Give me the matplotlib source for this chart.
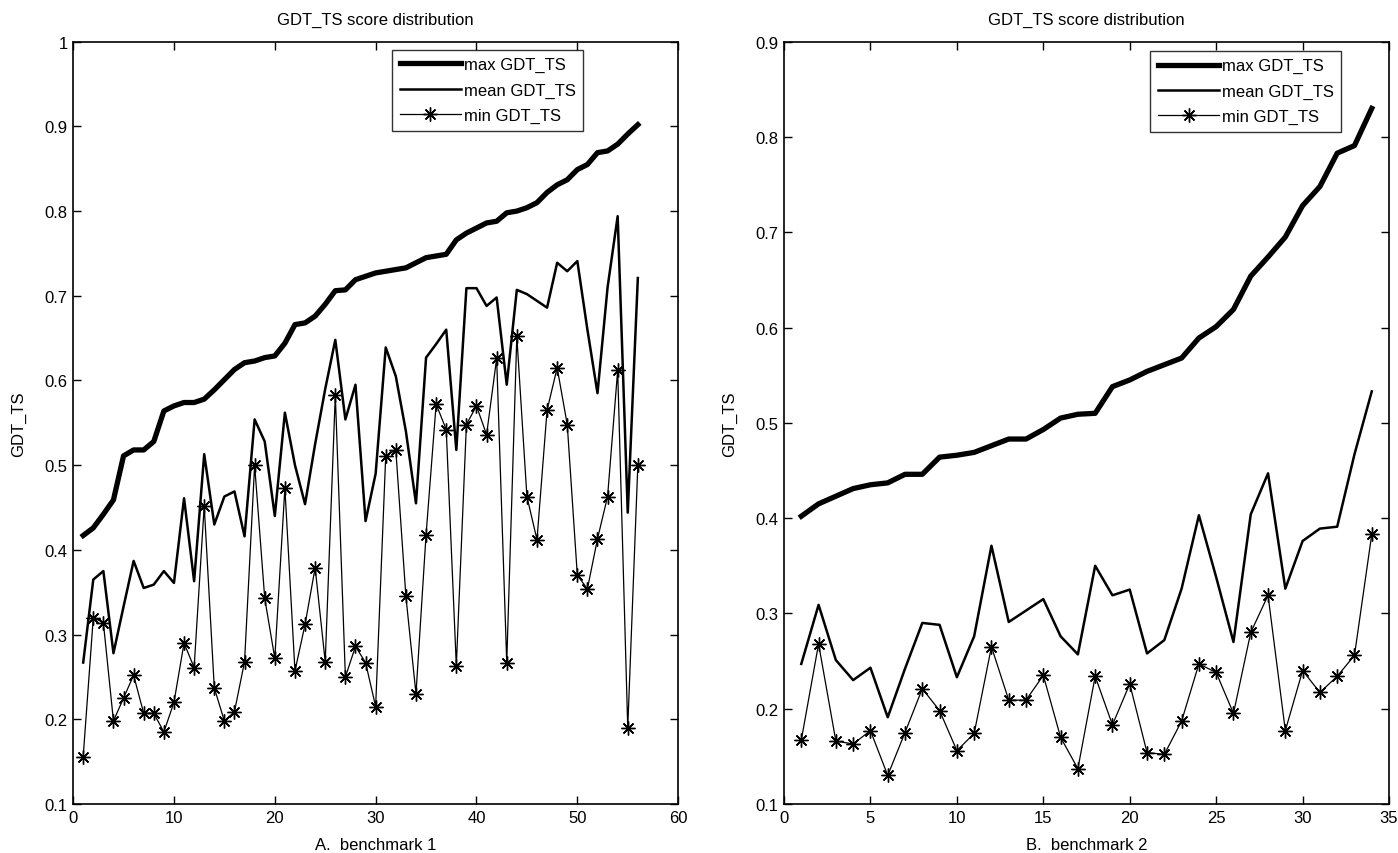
import matplotlib.pyplot as plt

plt.rcParams['font.family'] = ['Liberation Sans', 'DejaVu Sans']

# benchmark 1 (56 targets)
max_a = [0.417, 0.426, 0.442, 0.459, 0.511, 0.518, 0.518, 0.528, 0.564, 0.570,
         0.574, 0.574, 0.578, 0.589, 0.601, 0.613, 0.621, 0.623, 0.627, 0.629,
         0.644, 0.666, 0.668, 0.676, 0.690, 0.706, 0.707, 0.719, 0.723, 0.727,
         0.729, 0.731, 0.733, 0.739, 0.745, 0.747, 0.749, 0.766, 0.774, 0.780,
         0.786, 0.788, 0.798, 0.800, 0.804, 0.810, 0.822, 0.831, 0.837, 0.849,
         0.855, 0.869, 0.871, 0.879, 0.891, 0.902]
mean_a = [0.267, 0.365, 0.375, 0.278, 0.333, 0.387, 0.355, 0.359, 0.375, 0.361,
          0.461, 0.363, 0.513, 0.430, 0.463, 0.469, 0.416, 0.554, 0.528, 0.440,
          0.562, 0.500, 0.454, 0.525, 0.590, 0.648, 0.554, 0.595, 0.434, 0.490,
          0.639, 0.605, 0.540, 0.455, 0.627, 0.643, 0.660, 0.518, 0.709, 0.709,
          0.688, 0.698, 0.595, 0.707, 0.702, 0.694, 0.686, 0.739, 0.729, 0.741,
          0.660, 0.585, 0.710, 0.794, 0.444, 0.721]
min_a = [0.156, 0.320, 0.314, 0.198, 0.225, 0.252, 0.207, 0.207, 0.185, 0.220,
         0.290, 0.261, 0.452, 0.237, 0.198, 0.209, 0.268, 0.500, 0.343, 0.272,
         0.473, 0.257, 0.312, 0.379, 0.268, 0.583, 0.250, 0.286, 0.267, 0.215,
         0.511, 0.518, 0.345, 0.230, 0.418, 0.572, 0.542, 0.263, 0.548, 0.570,
         0.536, 0.626, 0.267, 0.652, 0.463, 0.412, 0.565, 0.615, 0.548, 0.370,
         0.354, 0.413, 0.463, 0.612, 0.190, 0.500]

# benchmark 2 (34 targets)
max_b = [0.402, 0.415, 0.423, 0.431, 0.435, 0.437, 0.446, 0.446, 0.464, 0.466,
         0.469, 0.476, 0.483, 0.483, 0.493, 0.505, 0.509, 0.510, 0.538, 0.545,
         0.554, 0.561, 0.568, 0.589, 0.601, 0.619, 0.654, 0.674, 0.695, 0.728,
         0.748, 0.783, 0.791, 0.830]
mean_b = [0.247, 0.309, 0.251, 0.230, 0.243, 0.191, 0.242, 0.290, 0.288, 0.233,
          0.276, 0.371, 0.291, 0.303, 0.315, 0.276, 0.257, 0.350, 0.319, 0.325,
          0.258, 0.272, 0.326, 0.403, 0.338, 0.270, 0.404, 0.447, 0.326, 0.376,
          0.389, 0.391, 0.467, 0.533]
min_b = [0.167, 0.268, 0.166, 0.163, 0.177, 0.130, 0.175, 0.221, 0.198, 0.156,
         0.174, 0.265, 0.209, 0.209, 0.235, 0.170, 0.137, 0.234, 0.183, 0.226,
         0.154, 0.152, 0.187, 0.247, 0.238, 0.195, 0.280, 0.319, 0.177, 0.240,
         0.217, 0.234, 0.256, 0.383]

panels = [
    (max_a, mean_a, min_a, 'A.  benchmark 1', (0, 60), range(0, 61, 10), (0.1, 1.0),
     [0.1, 0.2, 0.3, 0.4, 0.5, 0.6, 0.7, 0.8, 0.9, 1.0],
     ['0.1', '0.2', '0.3', '0.4', '0.5', '0.6', '0.7', '0.8', '0.9', '1'],
     [0.0523, 0.0574, 0.4328, 0.8926], (0.843, 0.9895)),
    (max_b, mean_b, min_b, 'B.  benchmark 2', (0, 35), range(0, 36, 5), (0.1, 0.9),
     [0.1, 0.2, 0.3, 0.4, 0.5, 0.6, 0.7, 0.8, 0.9],
     ['0.1', '0.2', '0.3', '0.4', '0.5', '0.6', '0.7', '0.8', '0.9'],
     [0.5608, 0.0574, 0.4328, 0.8926], (0.921, 0.988)),
]

fig = plt.figure(figsize=(13.98, 8.54), dpi=100)

for mx, mn, lo, xlab, xlim, xt, ylim, yt, ytl, rect, leg_at in panels:
    ax = fig.add_axes(rect)
    x = range(1, len(mx) + 1)
    ax.plot(x, mx, color='black', linewidth=3.8, label='max GDT_TS')
    ax.plot(x, mn, color='black', linewidth=1.8, label='mean GDT_TS')
    ax.plot(x, lo, color='black', linewidth=0.9, marker=(8, 2, 0), markersize=10,
            markeredgewidth=1.0, label='min GDT_TS')

    ax.set_xlim(*xlim)
    ax.set_ylim(*ylim)
    ax.set_xticks(list(xt))
    ax.set_yticks(yt)
    ax.set_yticklabels(ytl)
    ax.tick_params(direction='in', top=True, right=True, length=6, width=1,
                   labelsize=12, pad=4)
    for s in ax.spines.values():
        s.set_linewidth(1.2)

    ax.set_title('GDT_TS score distribution', fontsize=12, pad=13)
    ax.set_xlabel(xlab, fontsize=12, labelpad=9)
    ax.set_ylabel('GDT_TS', fontsize=12, labelpad=13)

    leg = ax.legend(loc='upper right', bbox_to_anchor=leg_at, fontsize=12,
                    frameon=True, fancybox=False, edgecolor='black',
                    handlelength=3.7, handletextpad=0.15, borderpad=0.45,
                    labelspacing=0.62, borderaxespad=0)
    leg.get_frame().set_linewidth(1.0)

fig.savefig('out.png', dpi=100, facecolor='white')
